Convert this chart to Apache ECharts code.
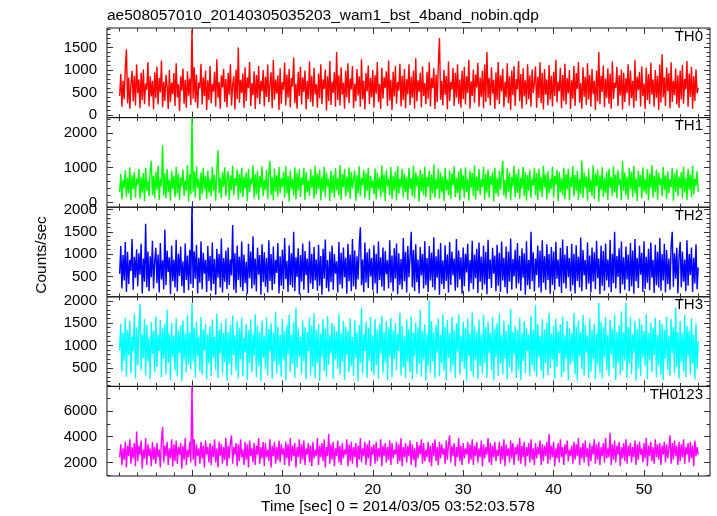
<!DOCTYPE html>
<html><head><meta charset="utf-8">
<script src="https://cdn.jsdelivr.net/npm/echarts@6/dist/echarts.min.js"></script>
<style>html,body{margin:0;padding:0;background:#fff}#c{width:717px;height:516px}</style>
</head><body><div id="c"></div><script>
// time sampling of all series: seconds from 2014/03/05 03:52:03.578, one row = 2 s
const T0 = -8, DT = 0.125;
const TH0 = [
420,910,180,760,350,1050,1460,260,830,140,690,980,300,870,210,1120,
480,790,150,940,330,1010,240,700,560,1170,190,860,410,760,120,950,
370,1080,230,820,500,1210,170,740,310,890,640,130,1000,280,720,460,
930,200,1150,390,680,90,860,540,1030,250,780,160,970,430,810,220,
1900,360,1060,280,900,150,720,590,1140,230,840,420,990,110,770,330,
1090,260,690,520,960,180,1240,380,730,140,880,610,1020,290,800,170,
940,450,1130,210,670,860,120,1010,350,1500,270,780,490,920,160,1060,
310,830,600,1180,200,710,440,970,130,890,370,1090,240,760,530,1000,
190,850,400,1120,280,680,950,150,1230,340,790,470,880,110,1040,250,
730,560,1160,210,900,380,1020,170,820,630,1280,260,700,140,960,420,
1070,230,840,510,990,120,760,350,1190,290,870,190,1050,460,680,160,
920,370,1130,240,790,580,1010,100,860,310,1200,220,740,490,950,180,
1400,330,880,210,1060,450,720,140,980,390,1150,260,810,570,1090,150,
700,300,1020,430,860,180,1240,350,760,120,930,520,1100,240,820,390,
1000,160,880,470,1180,280,690,130,1050,360,840,600,970,200,1210,320,
780,110,960,410,1090,250,730,540,1140,190,870,330,1020,150,800,460,
1130,220,850,380,990,140,1260,300,770,510,940,170,1080,420,710,240,
960,360,1170,190,820,600,1040,130,900,280,1110,1710,340,760,210,1000,
450,870,120,1190,310,730,560,1050,200,940,380,1130,250,790,160,980,
350,1070,230,860,490,1220,140,750,420,1010,270,900,610,1160,180,830,
400,990,150,1120,290,1400,380,820,210,1060,470,780,130,950,330,1180,
240,880,520,1030,170,740,390,1150,260,860,110,990,440,1090,200,800,
570,1200,300,910,140,1040,410,770,230,1130,350,880,180,1010,490,720,
1080,160,850,370,1170,260,940,120,1020,450,790,210,1110,340,870,190,
960,420,1230,280,740,530,1050,150,890,310,1140,230,820,480,1000,130,
770,360,1090,200,930,580,1180,270,710,140,1060,400,850,220,1150,340,
890,180,1020,460,760,110,990,300,1400,240,870,510,1100,170,810,380,
1040,250,920,140,1190,350,720,600,1070,200,880,430,1010,120,940,290,
820,480,1130,210,990,370,760,160,1220,310,850,550,960,190,1080,420,
700,130,1050,330,910,240,1160,450,790,180,1000,380,870,110,1120,270,
1350,390,840,200,1060,520,930,150,1170,290,760,440,1030,230,880,160,
990,340,1110,250,800,570,1200,180,920,400,1070,140,860,310,1010,480,
600];
const TH1 = [
300,820,90,650,410,930,160,720,250,1010,60,780,380,880,140,690,
520,960,110,740,280,850,40,1000,330,620,180,900,1200,210,770,130,
880,350,1060,70,700,460,1650,200,840,120,960,300,660,50,910,390,
760,150,1020,260,830,80,720,480,950,190,640,340,1080,30,810,240,
2450,310,900,140,1040,420,690,60,870,230,990,370,750,100,920,280,
680,170,1030,330,800,50,940,1500,260,720,120,880,440,1010,190,640,
900,70,780,350,1060,210,700,480,950,90,820,270,1000,150,740,400,
860,40,970,300,690,530,1070,130,810,240,920,80,760,410,1040,180,
650,360,940,100,850,1200,220,730,60,980,320,800,170,1020,270,710,
450,890,140,1050,250,760,30,930,380,680,200,1010,90,840,340,970,
160,720,500,1000,70,870,290,640,190,960,420,780,110,1060,230,830,
380,950,60,740,310,1030,150,860,460,690,40,910,270,800,130,990,
350,700,210,1080,80,820,440,960,170,750,290,1010,100,880,400,660,
920,50,790,260,1040,180,710,500,940,120,850,330,1000,70,770,420,
640,230,980,90,860,370,720,150,1070,280,810,40,930,460,690,200,
1020,110,770,340,900,60,1050,250,680,430,960,140,830,300,740,80,
990,390,700,180,1060,120,870,470,760,30,940,320,820,210,1030,150,
730,450,910,70,800,260,1090,140,680,380,970,100,860,290,750,40,
1000,340,660,200,930,110,840,490,1040,160,710,270,890,60,980,360,
780,130,1010,300,690,50,920,410,850,190,1070,90,740,330,960,220,
670,440,1030,80,820,280,950,140,760,510,880,30,1000,250,700,170,
910,360,790,1200,200,650,120,990,310,860,60,740,460,1050,150,830,
270,960,100,720,400,1020,180,880,50,790,340,940,130,690,480,1000,
210,850,70,970,310,740,160,1060,430,810,90,900,260,680,380,1030,
140,760,520,930,40,870,290,700,200,1000,110,820,370,960,60,730,
450,1040,170,800,330,910,80,690,240,1200,130,870,410,750,50,980,
300,660,190,1070,100,840,470,950,30,780,350,1010,150,720,260,890,
70,970,420,730,180,1040,280,810,120,930,490,680,60,1200,340,860,
200,750,90,990,380,880,150,1050,270,700,40,920,450,800,110,1010,
320,690,230,960,60,830,410,1080,140,770,300,940,80,860,500,710,
170,1020,350,780,100,900,260,670,440,1000,50,840,310,950,190,740,
400,880,120,1030,280,720,70,970,360,810,160,1060,230,690,470,900,
300];
const TH2 = [
560,1180,230,980,410,1270,150,1050,330,870,620,1340,200,940,470,1110,
280,1020,540,1230,120,900,380,1680,260,1060,170,950,480,1300,230,820,
1140,350,990,140,1250,430,860,210,1550,300,1080,600,930,100,1190,390,
880,250,1320,160,1010,510,1170,280,840,130,1240,420,970,190,1100,330,
2100,240,1060,450,1210,120,920,360,1290,210,1030,560,870,150,1180,400,
960,180,1260,330,890,90,1120,470,1000,250,1350,140,910,380,1080,220,
1150,310,880,520,1650,200,1020,130,1190,420,940,260,1280,170,990,350,
830,110,1230,460,1060,230,1400,300,900,160,1140,540,980,90,1220,370,
1040,270,910,140,1310,400,1000,190,1170,330,870,580,1250,120,950,290,
1100,210,1360,440,850,150,1200,310,1020,250,1500,170,930,490,1130,100,
980,380,1240,200,1070,530,900,130,1290,340,1010,220,1160,410,880,180,
1210,290,960,90,1120,450,1330,240,870,160,1060,370,1190,200,1000,560,
840,140,1270,320,1030,230,1150,480,920,110,1230,390,990,170,1340,280,
1080,210,950,430,1190,1600,300,880,150,1260,360,1040,240,1120,500,910,
190,1200,340,1010,120,1280,420,930,270,1150,180,1070,550,860,230,1310,
360,970,160,1130,450,1240,100,1020,310,890,210,1360,390,1050,140,1180,
480,940,1500,260,1090,170,1220,370,880,120,1160,520,1000,230,1290,300,
910,150,1180,410,1030,260,1380,190,950,470,1110,90,1250,330,860,220,
1200,400,990,140,1270,310,1060,520,900,180,1340,250,1080,430,930,110,
1150,280,1010,590,1230,160,870,350,1300,210,990,460,1120,130,1260,380,
940,200,1190,320,1050,100,1320,440,880,240,1140,560,970,170,1210,290,
1030,150,1280,410,920,260,1170,120,1060,380,1350,200,890,500,1100,230,
1250,340,960,180,1130,470,1020,90,1290,300,870,220,1500,390,1040,160,
900,530,1190,250,1080,140,1310,360,950,200,1220,420,1000,110,1160,310,
1060,190,1270,450,880,270,1140,130,1330,350,990,230,1180,480,910,160,
1230,300,1010,120,1200,400,940,250,1370,170,1090,520,870,210,1260,340,
970,140,1150,380,1040,220,1300,460,900,100,1190,290,1070,180,1240,410,
880,260,1320,150,1010,350,1500,230,960,490,1130,120,1280,320,930,200,
1170,430,990,170,1250,280,1080,110,1340,390,910,240,1190,540,1030,150,
1290,220,940,360,1120,190,1260,470,870,130,1210,300,1050,250,1360,180,
1000,410,1230,140,1090,330,900,200,1180,1500,270,1020,450,1140,120,950,
1270,260,1060,380,880,170,1310,290,1000,530,1150,150,920,340,1220,210,
700];
const TH3 = [
900,1480,420,1290,660,1620,300,1350,780,1550,380,1200,870,1700,260,1410,
560,1380,1930,450,1250,720,1590,330,1460,640,1180,250,1520,810,1330,400,
1650,520,1240,880,1570,290,1390,700,1480,360,1800,610,1270,230,1500,750,
1220,440,1610,310,1340,830,1450,200,1560,680,1260,390,1690,570,1300,470,
1950,650,1400,280,1530,760,1200,420,1640,350,1370,890,1480,240,1250,600,
1430,320,1580,710,1190,460,1710,270,1360,820,1510,380,1280,630,1600,210,
1300,580,1460,340,1670,790,1230,440,1540,260,1390,690,1620,310,1180,850,
1490,230,1350,610,1580,400,1260,760,1700,290,1440,530,1310,200,1560,720,
1210,470,1630,330,1370,860,1500,250,1290,640,1750,370,1420,560,1240,300,
1590,680,1330,220,1470,790,1680,410,1250,590,1530,280,1850,500,1380,740,
1200,360,1560,650,1410,240,1300,880,1620,330,1450,520,1720,270,1350,610,
1480,210,1270,750,1590,430,1380,300,1660,570,1230,820,1510,250,1440,690,
1320,480,1700,350,1260,640,1550,230,1420,780,1340,400,1610,540,1190,310,
1570,720,1290,200,1460,600,1850,370,1250,870,1530,280,1390,660,1640,420,
1230,340,1590,560,1360,250,1480,810,1670,390,1300,620,1540,230,1410,750,
1620,290,1340,700,1500,450,1260,880,1730,330,1440,510,1210,270,1580,640,
1370,410,1650,240,1290,770,1520,360,1400,580,1800,300,1330,690,1470,220,
1260,530,2000,380,1550,650,1310,260,1460,840,1610,310,1240,600,1690,440,
1420,230,1570,720,1280,400,1640,550,1350,270,1500,860,1700,350,1220,630,
1530,480,1390,210,1600,760,1270,420,1740,300,1450,670,1320,250,1580,540,
1250,370,1680,610,1410,280,1520,830,1290,450,1630,220,1380,740,1500,320,
1710,590,1240,350,1560,700,1330,240,1470,520,1820,390,1300,800,1440,270,
1360,460,1620,230,1280,650,1540,380,1400,870,1250,310,1670,560,1350,420,
1900,300,1480,740,1210,430,1590,260,1370,610,1510,340,1730,490,1270,680,
1440,250,1600,520,1320,820,1470,290,1650,400,1230,710,1550,220,1390,580,
1280,640,1720,360,1430,210,1560,760,1300,470,1680,330,1460,850,1220,280,
1610,410,1350,690,1490,240,1270,570,1950,380,1520,260,1400,730,1640,450,
1240,320,1570,800,1380,500,1690,230,1310,620,1450,350,1760,440,1290,660,
1950,270,1420,590,1630,360,1250,840,1540,210,1370,480,1600,310,1460,720,
1330,540,1700,250,1280,670,1510,400,1390,780,1620,290,1240,550,1570,340,
1480,230,1360,700,1640,460,1220,310,1590,820,1410,380,1850,520,1300,260,
1550,630,1270,420,1680,290,1440,750,1330,360,1610,580,1250,240,1500,470,
1100];
const TH0123 = [
2400,3400,1800,3100,2200,3600,1600,3300,2500,3800,1900,3200,2300,3500,1700,4400,
2100,3300,2600,3700,1500,3000,2300,3900,1800,3400,2500,3100,1700,3600,2200,3200,
1900,3500,2400,3000,1600,3700,4750,2000,3300,2500,3600,1800,3100,2300,3800,1700,
3400,2100,3700,1900,3200,2600,3500,1500,3300,2200,3900,1800,3000,2400,3600,2000,
7900,2200,3800,1700,3400,2500,3100,1900,3600,2300,3300,1600,3700,2600,3200,2000,
3500,1800,3300,2400,3800,2000,3100,1600,3600,2500,3400,1900,3200,2200,3900,1700,
3300,2300,3600,4100,1900,3200,2600,3500,1700,3400,2100,3800,2400,3000,1800,3600,
2200,3400,1600,3700,2500,3100,2000,3500,1800,3300,2600,3900,1900,3200,2300,3600,
1700,3500,2400,3000,2100,3800,1600,3300,2500,3600,1900,3200,2200,3700,2000,3400,
2600,3100,1800,3600,2300,3400,1700,3900,2100,3300,2500,3500,1600,3200,2400,3800,
1900,3400,2200,3700,1800,3100,2600,3500,2000,3300,1700,3600,2300,3000,2500,3900,
1800,3300,2400,3500,2100,3800,1600,3200,2500,4200,1900,3400,2200,3600,1700,3100,
2500,3700,2000,3300,1800,3500,2300,3000,2600,3800,1700,3400,2100,3600,1900,3200,
2400,3500,1600,3300,2200,3900,2000,3100,2500,3600,1800,3400,2300,3700,1700,3200,
2600,3400,1900,3600,2100,3100,2400,3800,1700,3300,2500,3500,2000,3200,2200,3700,
1800,3500,2300,3000,2600,3600,1900,3400,2100,3900,1700,3200,2400,3500,2000,3300,
2500,3700,1800,3400,2200,3100,1600,3600,2300,3300,2600,3800,1900,3500,2100,3000,
2400,3600,2000,3300,1700,3500,2500,3800,2100,3200,1800,3600,2300,3400,2600,3100,
1900,3700,2200,3400,4100,2000,3300,2500,3500,1700,3200,2400,3900,2100,3300,1800,
3500,2300,3100,2600,3600,1900,3400,2200,3800,1800,3300,2500,3600,2000,3100,2400,
3700,1700,3400,2300,3200,2600,3900,2000,3500,1800,3300,2400,3600,2100,3000,2500,
3600,1900,3300,2200,3800,1700,3400,2500,3100,2000,3700,2300,3500,1800,3200,2600,
3400,2100,3900,1900,3300,2400,3600,1700,3200,2500,3500,2000,3800,2200,3100,1800,
3500,2300,3200,2600,3700,1800,3400,2100,3300,2500,3600,1900,4200,2200,3300,2400,
3600,1700,3100,2300,3500,2000,3800,2400,3200,1800,3400,2600,3700,2100,3000,2500,
3300,1900,3600,2200,3400,2500,3900,1800,3200,2300,3500,2000,3700,2400,3100,1700,
3500,2100,3300,2600,3800,1900,3400,2200,3600,1800,3200,2500,3500,2000,3900,2300,
3100,2400,4300,1800,3400,2200,3700,2000,3300,2600,3600,1700,3200,2300,3500,2100,
3800,1900,3300,2500,3500,2000,3200,2400,3700,1800,3400,2200,3600,2600,3100,2000,
3500,2300,3900,1700,3300,2500,3600,2100,3200,1900,3800,2400,3400,2200,3500,1800,
3300,2600,3600,2000,3400,2300,3100,4100,1900,3500,2200,3700,2500,3300,1800,3600,
2100,3400,2400,3800,1900,3200,2600,3500,2000,3600,2300,3300,1700,3700,2500,3200,
2600];

const panelNames = ['TH0','TH1','TH2','TH3','TH0123'];
const panelData = [TH0, TH1, TH2, TH3, TH0123];
const xTickLabels = [0,10,20,30,40,50];
const yTickLabels = [[0,500,1000,1500],[0,1000,2000],[500,1000,1500,2000],[500,1000,1500,2000],[2000,4000,6000]];

// ---- layout / style ----
const colors = ['#ff0000','#00ff00','#0000ff','#00ffff','#ff00ff'];
const XMIN = -9.4, XMAX = 57.3;
const yMin = [-60,-136,43,85,940], yMax = [1935,2444,2052,2090,7915];
const yMinorStep = [100,200,100,100,1000];
const xMinorStep = 2;
const LEFT = 107, RIGHT = 7, TOP = 28, PH = 89.6;
const FONT = 'Liberation Sans';
const TICKC = '#333';
const fmt = v => String(v);

function steps(min, max, st) { const a=[]; for (let v=Math.ceil(min/st)*st; v<=max+1e-9; v+=st) a.push(+v.toFixed(6)); return a; }

const grids=[], xAxes=[], yAxes=[], series=[], titles=[];
const xMinor = steps(XMIN, XMAX, xMinorStep);
panelNames.forEach((name, i) => {
  grids.push({left:LEFT, right:RIGHT, top:TOP+i*PH, height:PH, show:true, borderColor:'#111', borderWidth:1, backgroundColor:'transparent'});
  const base = {gridIndex:i, type:'value', min:XMIN, max:XMAX, axisLine:{show:false, onZero:false}, splitLine:{show:false}};
  const xMain = xAxes.length;
  xAxes.push(Object.assign({}, base, {position:'bottom',
    axisTick:{inside:true, length:6, customValues:xTickLabels, lineStyle:{color:TICKC}},
    axisLabel:{show:i===4, customValues:xTickLabels, formatter:fmt, fontSize:15, color:'#000', fontFamily:FONT, margin:6}}));
  xAxes.push(Object.assign({}, base, {position:'bottom', axisTick:{inside:true, length:3.5, customValues:xMinor, lineStyle:{color:TICKC}}, axisLabel:{show:false}}));
  xAxes.push(Object.assign({}, base, {position:'top', axisTick:{inside:true, length:6, customValues:xTickLabels, lineStyle:{color:TICKC}}, axisLabel:{show:false}}));
  xAxes.push(Object.assign({}, base, {position:'top', axisTick:{inside:true, length:3.5, customValues:xMinor, lineStyle:{color:TICKC}}, axisLabel:{show:false}}));
  const ybase = {gridIndex:i, type:'value', min:yMin[i], max:yMax[i], axisLine:{show:false, onZero:false}, splitLine:{show:false}};
  const yMinor = steps(yMin[i], yMax[i], yMinorStep[i]);
  const yMain = yAxes.length;
  yAxes.push(Object.assign({}, ybase, {position:'left',
    axisTick:{inside:true, length:6, customValues:yTickLabels[i], lineStyle:{color:TICKC}},
    axisLabel:{customValues:yTickLabels[i], formatter:fmt, fontSize:15, color:'#000', fontFamily:FONT, margin:10}}));
  yAxes.push(Object.assign({}, ybase, {position:'left', axisTick:{inside:true, length:3.5, customValues:yMinor, lineStyle:{color:TICKC}}, axisLabel:{show:false}}));
  yAxes.push(Object.assign({}, ybase, {position:'right', axisTick:{inside:true, length:6, customValues:yTickLabels[i], lineStyle:{color:TICKC}}, axisLabel:{show:false}}));
  yAxes.push(Object.assign({}, ybase, {position:'right', axisTick:{inside:true, length:3.5, customValues:yMinor, lineStyle:{color:TICKC}}, axisLabel:{show:false}}));
  series.push({type:'line', xAxisIndex:xMain, yAxisIndex:yMain, showSymbol:false, symbol:'none', clip:true,
    data: panelData[i].map((v,k)=>[T0+k*DT, v]),
    lineStyle:{width:1.4, color:colors[i]}, itemStyle:{color:colors[i]}, animation:false});
  titles.push({text:name, right:14, top:TOP+i*PH+1, textStyle:{fontSize:15, fontWeight:'normal', color:'#000', fontFamily:FONT}, padding:0});
});
titles.push({text:'ae508057010_20140305035203_wam1_bst_4band_nobin.qdp', left:LEFT, top:8, padding:0,
  textStyle:{fontSize:15.5, fontWeight:'normal', color:'#000', fontFamily:FONT}});

const chart = echarts.init(document.getElementById('c'), null, {renderer:'canvas'});
chart.setOption({
  animation:false,
  backgroundColor:'#fff',
  title: titles,
  grid: grids, xAxis: xAxes, yAxis: yAxes, series: series,
  graphic: [
    {type:'text', x:42, y:255, rotation:Math.PI/2, style:{text:'Counts/sec', font:'15.5px "Liberation Sans"', fill:'#000', textAlign:'center', textVerticalAlign:'middle'}},
    {type:'text', x:398, y:507, style:{text:'Time [sec] 0 = 2014/03/05 03:52:03.578', font:'15.5px "Liberation Sans"', fill:'#000', textAlign:'center', textVerticalAlign:'middle'}}
  ]
});
</script></body></html>
